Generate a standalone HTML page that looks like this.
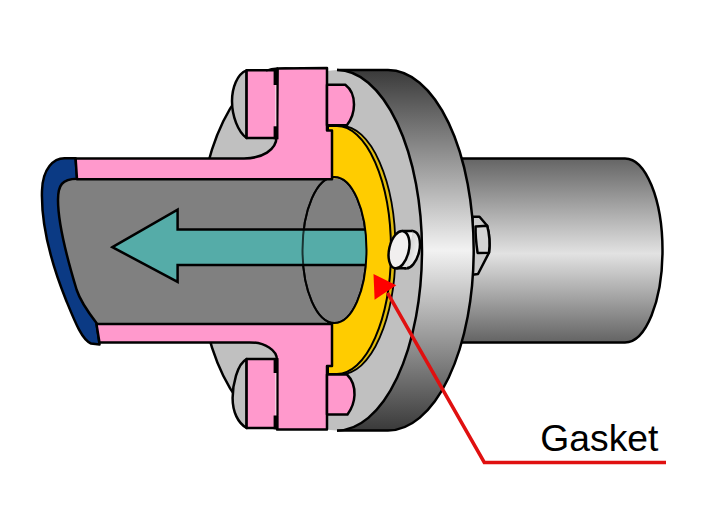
<!DOCTYPE html>
<html><head><meta charset="utf-8"><style>
html,body{margin:0;padding:0;background:#fff;width:728px;height:512px;overflow:hidden}
svg{display:block}
text{font-family:"Liberation Sans",sans-serif}
</style></head><body>
<svg width="728" height="512" viewBox="0 0 728 512">
<defs>
<linearGradient id="gp" x1="0" y1="158" x2="0" y2="342" gradientUnits="userSpaceOnUse">
<stop offset="0" stop-color="#646464"/><stop offset="0.52" stop-color="#e2e2e2"/><stop offset="1" stop-color="#646464"/>
</linearGradient>
<linearGradient id="gr" x1="0" y1="70.1" x2="0" y2="430.5" gradientUnits="userSpaceOnUse">
<stop offset="0" stop-color="#3a3a3a"/><stop offset="0.5" stop-color="#f2f2f2"/><stop offset="1" stop-color="#3a3a3a"/>
</linearGradient>
<linearGradient id="gb" x1="0" y1="0" x2="1" y2="0">
<stop offset="0" stop-color="#bdbdbd"/><stop offset="1" stop-color="#f4f4f4"/>
</linearGradient>
<clipPath id="cl"><rect x="0" y="0" width="300" height="512"/></clipPath>
</defs>
<g stroke="#000" stroke-width="2.5" stroke-linejoin="round">
<!-- right pipe -->
<path d="M460,158.4 L625,158.4 A37.5,92 0 0 1 625,342.4 L460,342.4 Z" fill="url(#gp)"/>
<!-- hex nut -->
<path d="M472.5,216.7 L479.5,216.7 L487.2,225.8 C489.5,234 490,244 489,252.7 L478,274 L472.5,274.7 Z" fill="#cacaca"/>
<path d="M475.6,226.4 L487.2,225.8 C489.5,234 490,244 489,252.7 L477.6,252.9 C476.3,244 475.3,235 475.6,226.4 Z" fill="#d4d4d4"/>
<!-- right flange rim -->
<path d="M337,70.1 L388,70.1 A85.7,180.2 0 0 1 388,430.5 L337,430.5" fill="url(#gr)"/>
<!-- right flange face -->
<ellipse cx="337" cy="250.3" rx="85" ry="180.2" fill="#c0c0c0" stroke="none"/>
<path d="M337,70.1 A85,180.2 0 0 1 337,430.5" fill="none"/>
<!-- left flange back (clipped) -->
<ellipse cx="285.5" cy="248.5" rx="88" ry="180" fill="#c0c0c0" clip-path="url(#cl)"/>
<!-- gasket back edge -->
<ellipse cx="341.5" cy="250" rx="54" ry="124" fill="#e0bc10" stroke-width="1.8"/>
<!-- pipe interior -->
<path d="M372,178.5 L372,325 L96,325 L93.5,322 C85,312 77,300 73.7,290 C67,268 55,225 55,200 C55,185 59,179 74.1,178.5 Z" fill="#808080" stroke="none"/>
<!-- hole ellipse -->
<ellipse cx="334.5" cy="250" rx="32" ry="73" fill="none" stroke-width="2"/>
</g>
<!-- arrow -->
<path d="M112.4,247.2 L177.6,209.6 L177.6,229.4 L380,229.4 L380,265.1 L177.6,265.1 L177.6,281.8 Z" fill="#55aca8" stroke="#000" stroke-width="2.5" stroke-linejoin="miter"/>
<path d="M334.5,177 A32,73 0 0 0 334.5,323" fill="none" stroke="#000" stroke-opacity="0.7" stroke-width="2"/>
<g stroke="#000" stroke-width="2.5" stroke-linejoin="round">
<!-- gasket front crescent -->
<path d="M337,126 A54,124 0 0 1 337,374 L328,374 L328,323 L334.5,323 A32,73 0 0 0 334.5,177 L328,177 L328,126 Z" fill="#ffcc00" stroke-width="2"/>
<!-- blue end -->
<path d="M75.6,158.2 L64.4,158.2 C54,158.2 42.5,168 42,191 C41,225 50,260 66,300 C75,322 82,340 91,343.5 L99.5,344.5 L96.5,323 C88,312 80,300 76.7,290 C70,268 58,225 58,200 C58,185 62,179 77.1,178.8 Z" fill="#0b3a84"/>
<!-- pink top -->
<path d="M75.6,158.4 L244,158.4 C262,158.4 276.5,150 276.5,137 L277.5,68.5 L327,68 L327,130.5 L332,130.5 L332,179.2 L77,179.2 Z" fill="#ff99cc"/>
<!-- pink bottom -->
<path d="M96.5,324.1 L332,324.1 L332,366 L327,366 L327,429.6 L277,429.6 L277,360 C277,350 265,342.4 249.6,342.4 L99.5,342.6 Z" fill="#ff99cc"/>
<!-- left bolt heads -->
<path d="M246.6,70.3 C237,74 232,88 232,101 C232,116 238,132 246.6,138 Z" fill="#c0c0c0"/>
<path d="M276.5,70.3 L246.6,70.3 L246.6,138 L276.5,138" fill="#ff99cc"/>
<path d="M246.6,359.1 C237,364 232.6,385 232.6,398 C232.6,412 238,423 246.6,428 Z" fill="#c0c0c0"/>
<path d="M276.5,359.1 L246.6,359.1 L246.6,428 L276.5,428" fill="#ff99cc"/>
</g>
<g stroke="none" fill="#000">
<rect x="273.6" y="69" width="4.9" height="16"/><rect x="276.3" y="85" width="2.2" height="41.5"/><rect x="275.2" y="85" width="1.1" height="41.5" fill="#f6d6e6"/><rect x="273.6" y="126.3" width="4.9" height="13"/>
<rect x="273.6" y="358" width="4.9" height="15"/><rect x="276.3" y="373" width="2.2" height="42.5"/><rect x="275.2" y="373" width="1.1" height="42.5" fill="#f6d6e6"/><rect x="273.6" y="415.5" width="4.9" height="13.8"/>
</g>
<g stroke="#000" stroke-width="2.5" stroke-linejoin="round">
<path d="M266,70.6 Q271,68.6 278,68.3" fill="none" stroke-width="2"/>
<!-- right nuts -->
<path d="M327,84.7 L345.3,84.7 C351,89 354,97 354,104.5 C354,112 351,120 346.9,125.3 L327,125.3 Z" fill="#ff99cc"/>
<path d="M327,374.5 L347,374.5 C352.5,380 354.8,388 354.5,395 C354.2,403 351.5,409 347.5,414.5 L327,414.5 Z" fill="#ff99cc"/>
<!-- white bolt -->
<g transform="rotate(13 409.5 249.7)"><ellipse cx="409.5" cy="249.7" rx="9.8" ry="19" fill="url(#gb)"/></g>
<path d="M402.12,231.06 L412.62,231.06 L406.38,268.34 L395.88,268.34 Z" fill="url(#gb)" stroke="none"/>
<path d="M402.12,231.06 L412.62,231.06 M395.88,268.34 L406.38,268.34" fill="none"/>
<g transform="rotate(13 399 249.7)"><ellipse cx="399" cy="249.7" rx="9.8" ry="19" fill="#f1efef"/></g>
</g>
<!-- red pointer -->
<path d="M387.5,292.8 L484.3,462.4 L666,462.4" fill="none" stroke="#e01010" stroke-width="3.5"/>
<path d="M373.5,274.1 L396.3,285.2 L374.6,299.8 Z" fill="#ff0000"/>
<text x="540.3" y="451.3" font-size="37.3" fill="#000">Gasket</text>
</svg>
</body></html>
